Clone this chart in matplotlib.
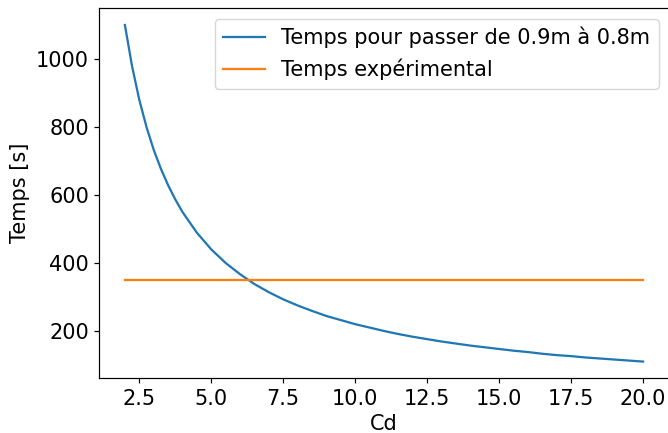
import matplotlib
matplotlib.use("Agg")
import matplotlib.pyplot as plt

cd = [2, 2.25, 2.5, 2.75, 3, 3.25, 3.5, 3.75, 4, 4.5, 5, 5.5, 6, 6.5, 7, 7.5, 8, 8.5, 9, 9.5,
      10, 10.5, 11, 11.5, 12, 12.5, 13, 13.5, 14, 14.5, 15, 15.5, 16, 16.5, 17, 17.5, 18,
      18.5, 19, 19.5, 20]
temps = [1100, 978, 880, 800, 733, 677, 629, 587, 550, 489, 440, 400, 367, 338, 314, 293,
         275, 259, 244, 232, 220, 210, 200, 191, 183, 176, 169, 163, 157, 152, 147, 142,
         138, 133, 129, 126, 122, 119, 116, 113, 110]
cd_exp = [2, 20]
temps_exp = [350, 350]

s = 1.08
plt.rcParams.update({
    'font.size': 15,
    'lines.linewidth': 1.5 * s,
    'axes.linewidth': 0.8 * s,
    'xtick.major.size': 3.5 * s,
    'ytick.major.size': 3.5 * s,
    'xtick.major.width': 0.8 * s,
    'ytick.major.width': 0.8 * s,
    'legend.handlelength': 2.0,
})
fig = plt.figure(figsize=(6.68, 4.33), dpi=100)
ax = fig.add_axes([0.1482, 0.1261, 0.8533, 0.855])
ax.plot(cd, temps, color='#1f77b4', label='Temps pour passer de 0.9m à 0.8m')
ax.plot(cd_exp, temps_exp, color='#ff7f0e', label='Temps expérimental')
ax.set_xlabel('Cd')
ax.set_ylabel('Temps [s]')
ax.legend(loc='upper right')
fig.savefig('out.png', dpi=100)
